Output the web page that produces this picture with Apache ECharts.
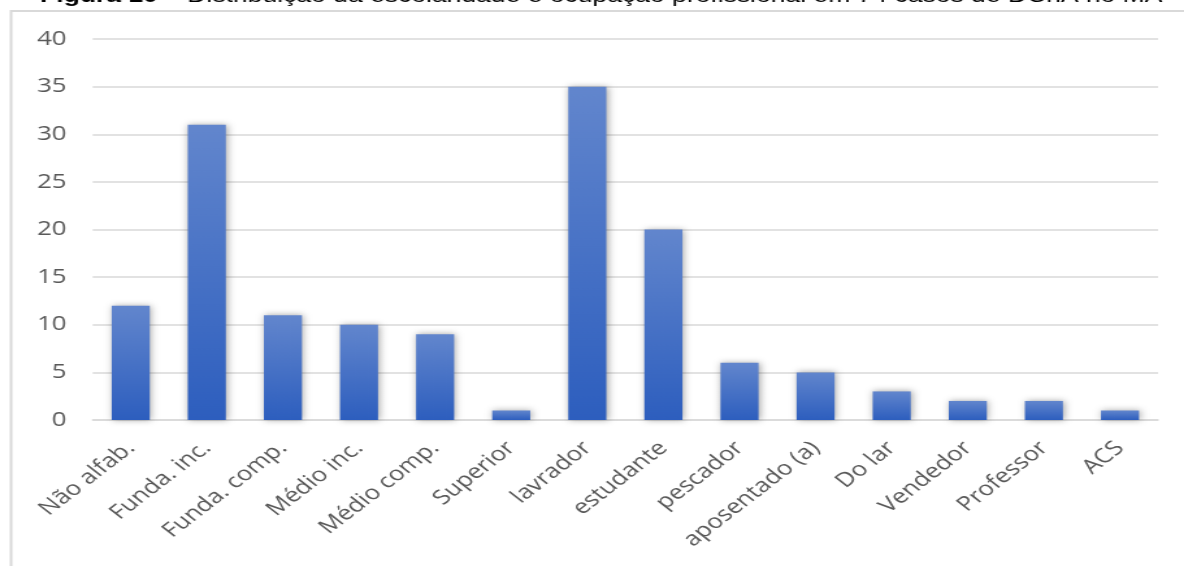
<!DOCTYPE html>
<html>
<head>
<meta charset="utf-8">
<script src="https://cdn.jsdelivr.net/npm/echarts@6/dist/echarts.min.js"></script>
<style>
  html, body { margin: 0; padding: 0; background: #fff; overflow: hidden; }
  #wrap { width: 1184px; height: 566px; overflow: hidden; position: relative; }
  /* the figure is drawn at a narrower width and widened horizontally */
  #chart { width: 911px; height: 566px; transform: scaleX(1.2997); transform-origin: 0 0; }
</style>
</head>
<body>
<div id="wrap"><div id="chart"></div></div>
<script>
const categories = ['Não alfab.', 'Funda. inc.', 'Funda. comp.', 'Médio inc.', 'Médio comp.', 'Superior',
  'lavrador', 'estudante', 'pescador', 'aposentado (a)', 'Do lar', 'Vendedor', 'Professor', 'ACS'];
const counts = [12, 31, 11, 10, 9, 1, 35, 20, 6, 5, 3, 2, 2, 1];
const yTicks = { min: 0, max: 40, interval: 5 };
const titleBold = 'Figura 10';
const titleRest = ' – Distribuição da escolaridade e ocupação profissional em 74 casos de DChA no MA';

const chart = echarts.init(document.getElementById('chart'));
const textColor = '#595959';
const gridColor = '#d9d9d9';

chart.setOption({
  animation: false,
  backgroundColor: '#ffffff',
  grid: { left: 71.3, right: 20, top: 39, bottom: 146, containLabel: false },
  xAxis: {
    type: 'category',
    data: categories,
    axisLine: { show: true, lineStyle: { color: gridColor, width: 1.5 } },
    axisTick: { show: false },
    axisLabel: {
      interval: 0,
      rotate: 45,
      margin: 25,
      color: textColor,
      fontFamily: 'Open Sans',
      fontSize: 20
    }
  },
  yAxis: {
    type: 'value',
    min: yTicks.min,
    max: yTicks.max,
    interval: yTicks.interval,
    axisLine: { show: false },
    axisTick: { show: false },
    splitLine: { show: true, lineStyle: { color: gridColor, width: 1.5 } },
    axisLabel: {
      margin: 20,
      color: textColor,
      fontFamily: 'Open Sans',
      fontSize: 20
    }
  },
  series: [{
    type: 'bar',
    data: counts,
    barWidth: '50%',
    itemStyle: {
      color: new echarts.graphic.LinearGradient(0, 0, 0, 1, [
        { offset: 0, color: '#6286cd' },
        { offset: 1, color: '#2d5ebe' }
      ]),
      shadowColor: 'rgba(0,0,0,0.35)',
      shadowBlur: 6,
      shadowOffsetX: 1,
      shadowOffsetY: 0
    }
  }],
  graphic: [
    {
      type: 'text',
      left: 30.8,
      top: -14,
      z: 10,
      style: {
        text: '{b|' + titleBold + '}{r|' + titleRest + '}',
        rich: {
          b: { fontFamily: 'Liberation Sans', fontWeight: 'bold', fontSize: 20.4, fill: '#000', lineHeight: 20 },
          r: { fontFamily: 'Liberation Sans', fontSize: 20.4, fill: '#000', lineHeight: 20 }
        }
      }
    },
    {
      type: 'line',
      z: 5,
      shape: { x1: 8.5, y1: 11, x2: 911, y2: 11 },
      style: { stroke: gridColor, lineWidth: 2 }
    },
    {
      type: 'line',
      z: 5,
      shape: { x1: 8.5, y1: 10, x2: 8.5, y2: 566 },
      style: { stroke: gridColor, lineWidth: 2 }
    }
  ]
});
</script>
</body>
</html>
